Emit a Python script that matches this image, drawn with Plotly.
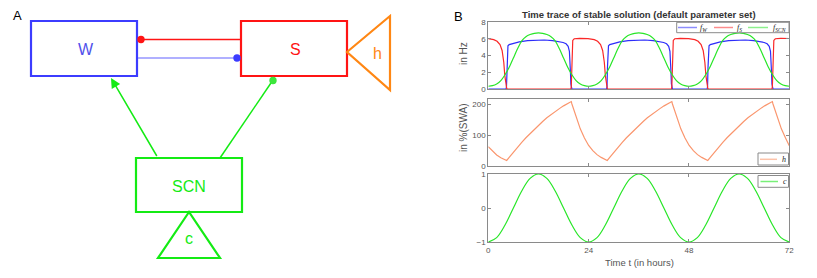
import plotly.graph_objects as go

# ---------------- data ----------------
t_w = [0, 4.25, 4.35, 4.45, 4.55, 4.7, 5.0, 5.9, 7.4, 9.4, 11.4, 13.4, 15.4, 16.9, 17.9, 18.6, 19.1, 19.4, 19.55, 19.65, 19.75, 19.85, 20.0,
       28.3, 28.4, 28.5, 28.6, 28.75, 29.05, 29.95, 31.45, 33.45, 35.45, 37.45, 39.45, 40.95, 41.95, 42.65, 43.15, 43.45, 43.6, 43.7, 43.8, 43.9, 44.05,
       52.35, 52.45, 52.55, 52.65, 52.8, 53.1, 54.0, 55.5, 57.5, 59.5, 61.5, 63.5, 65.0, 66.0, 66.7, 67.2, 67.5, 67.65, 67.75, 67.85, 67.95, 68.1, 72]
f_w = [0, 0, 0.3, 2.5, 4.6, 5.15, 5.3, 5.45, 5.62, 5.78, 5.85, 5.85, 5.78, 5.65, 5.55, 5.4, 5.1, 4.5, 3.5, 2.0, 0.6, 0.1, 0,
       0, 0.3, 2.5, 4.6, 5.15, 5.3, 5.45, 5.62, 5.78, 5.85, 5.85, 5.78, 5.65, 5.55, 5.4, 5.1, 4.5, 3.5, 2.0, 0.6, 0.1, 0,
       0, 0.3, 2.5, 4.6, 5.15, 5.3, 5.45, 5.62, 5.78, 5.85, 5.85, 5.78, 5.65, 5.55, 5.4, 5.1, 4.5, 3.5, 2.0, 0.6, 0.1, 0, 0]

t_s = [0, 1.3, 2.1, 2.8, 3.3, 3.7, 3.95, 4.15, 4.3, 4.4, 4.55, 19.75,
       19.85, 19.95, 20.05, 20.2, 20.55, 21.85, 23.85, 25.35, 26.15, 26.85, 27.35, 27.75, 28.0, 28.2, 28.35, 28.45, 28.6, 43.8,
       43.9, 44.0, 44.1, 44.25, 44.6, 45.9, 47.9, 49.4, 50.2, 50.9, 51.4, 51.8, 52.05, 52.25, 52.4, 52.5, 52.65, 67.85,
       67.95, 68.05, 68.15, 68.3, 68.65, 69.95, 72]
f_s = [6.02, 5.9, 5.7, 5.3, 4.6, 3.2, 1.6, 0.6, 0.2, 0.08, 0, 0,
       0.3, 3.2, 5.2, 5.8, 6.0, 6.05, 6.02, 5.9, 5.7, 5.3, 4.6, 3.2, 1.6, 0.6, 0.2, 0.08, 0, 0,
       0.3, 3.2, 5.2, 5.8, 6.0, 6.05, 6.02, 5.9, 5.7, 5.3, 4.6, 3.2, 1.6, 0.6, 0.2, 0.08, 0, 0,
       0.3, 3.2, 5.2, 5.8, 6.0, 6.05, 6.03]

t_hourly = list(range(0, 73))
f_scn = [0.33, 0.4, 0.6, 1.0, 1.7, 2.6, 3.7, 4.8, 5.75, 6.25, 6.5, 6.65, 6.7, 6.65, 6.5, 6.25, 5.75, 4.8, 3.7, 2.6, 1.7, 1.0, 0.6, 0.4,
         0.33, 0.4, 0.6, 1.0, 1.7, 2.6, 3.7, 4.8, 5.75, 6.25, 6.5, 6.65, 6.7, 6.65, 6.5, 6.25, 5.75, 4.8, 3.7, 2.6, 1.7, 1.0, 0.6, 0.4,
         0.33, 0.4, 0.6, 1.0, 1.7, 2.6, 3.7, 4.8, 5.75, 6.25, 6.5, 6.65, 6.7, 6.65, 6.5, 6.25, 5.75, 4.8, 3.7, 2.6, 1.7, 1.0, 0.6, 0.4,
         0.33]

t_h = [0, 1, 2, 3, 4, 4.4, 5.0, 6.0, 7.0, 8.0, 9.0, 10.0, 11.0, 12.0, 13.0, 14.0, 15.0, 16.0, 17.0, 18.0, 19.0, 19.85,
       20.0, 21.0, 22.0, 23.0, 24.0, 25.0, 26.0, 27.0, 28.0, 28.45,
       29.05, 30.05, 31.05, 32.05, 33.05, 34.05, 35.05, 36.05, 37.05, 38.05, 39.05, 40.05, 41.05, 42.05, 43.05, 43.9,
       44.05, 45.05, 46.05, 47.05, 48.05, 49.05, 50.05, 51.05, 52.05, 52.5,
       53.1, 54.1, 55.1, 56.1, 57.1, 58.1, 59.1, 60.1, 61.1, 62.1, 63.1, 64.1, 65.1, 66.1, 67.1, 67.95,
       68.1, 69.1, 70.1, 71.1, 72]
h_vals = [63, 48, 36, 27, 20, 18, 28, 45, 61, 77, 92, 106, 120, 133, 145, 157, 168, 178, 187, 196, 204, 210,
          202, 158, 121, 91, 67, 50, 37, 28, 21, 18,
          28, 45, 61, 77, 92, 106, 120, 133, 145, 157, 168, 178, 187, 196, 204, 210,
          202, 158, 121, 91, 67, 50, 37, 28, 21, 18,
          28, 45, 61, 77, 92, 106, 120, 133, 145, 157, 168, 178, 187, 196, 204, 210,
          202, 158, 121, 91, 66]

t_c = list(range(0, 73, 2))
c_vals = [-1, -0.87, -0.5, 0, 0.5, 0.87, 1, 0.87, 0.5, 0, -0.5, -0.87,
          -1, -0.87, -0.5, 0, 0.5, 0.87, 1, 0.87, 0.5, 0, -0.5, -0.87,
          -1, -0.87, -0.5, 0, 0.5, 0.87, 1, 0.87, 0.5, 0, -0.5, -0.87,
          -1]

x_ticks = [0, 24, 48, 72]
y1_ticks = [0, 2, 4, 6, 8]
y2_ticks = [0, 100, 200]
y3_ticks = [-1, 0, 1]

W, H = 817, 278
FONT = "Liberation Sans, Arial, sans-serif"
SERIF = "Liberation Serif, serif"
GRAY = "#555555"
AX = "#8a8a8a"

BLUE = "rgb(45,45,250)"
RED = "rgb(250,40,40)"
GREEN = "rgb(40,230,40)"
SALMON = "rgb(250,150,110)"

fig = go.Figure()

fig.add_trace(go.Scatter(x=t_w, y=f_w, mode="lines", line=dict(color=BLUE, width=1.2),
                         name="f_W", xaxis="x", yaxis="y", showlegend=False))
fig.add_trace(go.Scatter(x=t_s, y=f_s, mode="lines", line=dict(color=RED, width=1.2),
                         name="f_S", xaxis="x", yaxis="y", showlegend=False))
fig.add_trace(go.Scatter(x=t_hourly, y=f_scn, mode="lines", line=dict(color=GREEN, width=1.2, shape="spline", smoothing=0.8),
                         name="f_SCN", xaxis="x", yaxis="y", showlegend=False))
fig.add_trace(go.Scatter(x=t_h, y=h_vals, mode="lines", line=dict(color=SALMON, width=1.2),
                         name="h", xaxis="x2", yaxis="y2", showlegend=False))
fig.add_trace(go.Scatter(x=t_c, y=c_vals, mode="lines", line=dict(color=GREEN, width=1.2, shape="spline", smoothing=1.0),
                         name="c", xaxis="x3", yaxis="y3", showlegend=False))

xd = [488.3 / W, 789.3 / W]


def ydom(top_px, bot_px):
    return [1 - bot_px / H, 1 - top_px / H]


def px(x):
    return x / W


def py(y):
    return 1 - y / H


axis_common = dict(showline=True, linecolor=AX, linewidth=1, mirror="ticks", ticks="inside",
                   ticklen=3, tickcolor=AX, showgrid=False, zeroline=False,
                   tickfont=dict(family=FONT, size=8, color=GRAY))

fig.update_layout(
    width=W, height=H, margin=dict(l=0, r=0, t=0, b=0, autoexpand=False),
    paper_bgcolor="white", plot_bgcolor="white", showlegend=False,
    font=dict(family=FONT, color=GRAY),
    xaxis=dict(domain=xd, range=[0, 72], tickvals=x_ticks, showticklabels=False, anchor="y", **axis_common),
    yaxis=dict(domain=ydom(22, 89), range=[0, 8], tickvals=y1_ticks, anchor="x", **axis_common),
    xaxis2=dict(domain=xd, range=[0, 72], tickvals=x_ticks, showticklabels=False, anchor="y2", **axis_common),
    yaxis2=dict(domain=ydom(98.5, 166), range=[0, 220], tickvals=y2_ticks, anchor="x2", **axis_common),
    xaxis3=dict(domain=xd, range=[0, 72], tickvals=x_ticks, anchor="y3", **axis_common),
    yaxis3=dict(domain=ydom(174, 242), range=[-1, 1], tickvals=y3_ticks, anchor="x3", **axis_common),
    xaxis4=dict(domain=[0, 0.5], range=[0, W / 2], visible=False, anchor="y4"),
    yaxis4=dict(domain=[0, 1], range=[H, 0], visible=False, anchor="x4"),
)

# ---------------- custom legends (MATLAB-style, compact) ----------------
legend_boxes = [(676.7, 22.3, 789, 32.7), (758, 153, 788.5, 165), (758, 175.5, 788.5, 187.3)]
for x0, y0, x1, y1 in legend_boxes:
    fig.add_shape(type="rect", xref="paper", yref="paper", x0=px(x0), y0=py(y0), x1=px(x1), y1=py(y1),
                  line=dict(color=AX, width=1), fillcolor="white", layer="above")

legend_items = [
    (678, 697, 27.5, "rgb(140,140,252)", "<i>f<sub>W</sub></i>", 704, 27.5),
    (714, 733, 27.5, "rgb(252,140,140)", "<i>f<sub>S</sub></i>", 739.5, 27.5),
    (748, 768, 27.5, "rgb(140,240,140)", "<i>f<sub>SCN</sub></i>", 779, 27.5),
    (760, 777, 159.3, "rgb(252,195,170)", "<i>h</i>", 783.5, 159),
    (760.5, 778, 181.5, "rgb(120,240,120)", "<i>c</i>", 784.5, 181),
]
for x0, x1, y, col, txt, tx, ty in legend_items:
    fig.add_shape(type="line", xref="paper", yref="paper", x0=px(x0), y0=py(y), x1=px(x1), y1=py(y),
                  line=dict(color=col, width=1.5), layer="above")
    fig.add_annotation(xref="paper", yref="paper", x=px(tx), y=py(ty), text=txt, showarrow=False,
                       xanchor="center", yanchor="middle", font=dict(family=SERIF, size=8, color="#222"))

# ---------------- panel A diagram (pixel-like coordinates on x4/y4) ----------------
box_w = (31, 21, 137, 76)
box_s = (241, 21, 347, 76)
box_scn = (136, 158, 242, 212)
tri_h = [(347, 52), (390, 16), (390, 90)]
tri_c = [(189, 212), (158, 258), (220, 258)]

C_BLUE = "rgb(60,60,255)"
C_RED = "rgb(255,20,20)"
C_GREEN = "rgb(20,235,20)"
C_ORANGE = "rgb(255,135,20)"

for (x0, y0, x1, y1), col in [(box_w, C_BLUE), (box_s, C_RED), (box_scn, C_GREEN)]:
    fig.add_shape(type="rect", xref="x4", yref="y4", x0=x0, y0=y0, x1=x1, y1=y1,
                  line=dict(color=col, width=2.2), fillcolor="rgba(0,0,0,0)")


def tri_path(pts):
    return "M " + " L ".join(f"{x} {y}" for x, y in pts) + " Z"


fig.add_shape(type="path", xref="x4", yref="y4", path=tri_path(tri_h), line=dict(color=C_ORANGE, width=2.2))
fig.add_shape(type="path", xref="x4", yref="y4", path=tri_path(tri_c), line=dict(color=C_GREEN, width=2.2))

fig.add_shape(type="line", xref="x4", yref="y4", x0=141, y0=39.5, x1=241, y1=39.5, line=dict(color=C_RED, width=1.5))
fig.add_shape(type="line", xref="x4", yref="y4", x0=138, y0=58, x1=237, y1=58, line=dict(color="rgb(150,150,255)", width=1.5))
fig.add_shape(type="line", xref="x4", yref="y4", x0=220, y0=158, x1=273, y1=80, line=dict(color=C_GREEN, width=1.5))
for cx, cy, col in [(141, 39.5, C_RED), (237, 58, C_BLUE), (273, 80.5, "rgb(60,230,60)")]:
    fig.add_shape(type="circle", xref="x4", yref="y4", x0=cx - 3.7, y0=cy - 3.7, x1=cx + 3.7, y1=cy + 3.7,
                  line=dict(color=col, width=0), fillcolor=col)

fig.add_annotation(xref="x4", yref="y4", x=111, y=78, ax=158, ay=158, axref="x4", ayref="y4",
                   showarrow=True, arrowhead=2, arrowsize=1.3, arrowwidth=1.5, arrowcolor=C_GREEN, text=" ",
                   font=dict(size=1))

labels_a = [("W", 86, 49, "rgb(80,80,235)"), ("S", 295, 49, C_RED), ("h", 377, 53, C_ORANGE),
            ("SCN", 189, 186, C_GREEN), ("c", 189, 238, C_GREEN)]
for txt, x, y, col in labels_a:
    fig.add_annotation(xref="x4", yref="y4", x=x, y=y, text=txt, showarrow=False,
                       font=dict(family=FONT, size=16, color=col), xanchor="center", yanchor="middle")

texts = [
    ("A", 17, 15, 13, "black", 0),
    ("B", 458, 17, 13, "black", 0),
    ("<b>Time trace of stable solution (default parameter set)</b>", 639, 14.5, 9.5, "#333", 0),
    ("Time t (in hours)", 639, 262, 9.5, GRAY, 0),
    ("in Hz", 463, 54, 10, GRAY, -90),
    ("in %(SWA)", 463, 128, 10, GRAY, -90),
]
for txt, x, y, sz, col, ang in texts:
    fig.add_annotation(xref="paper", yref="paper", x=px(x), y=py(y), text=txt, showarrow=False, textangle=ang,
                       xanchor="center", yanchor="middle", font=dict(family=FONT, size=sz, color=col))

fig.write_html("out.html", config={"displayModeBar": False, "staticPlot": True},
               post_script="document.body.style.margin='0';")
